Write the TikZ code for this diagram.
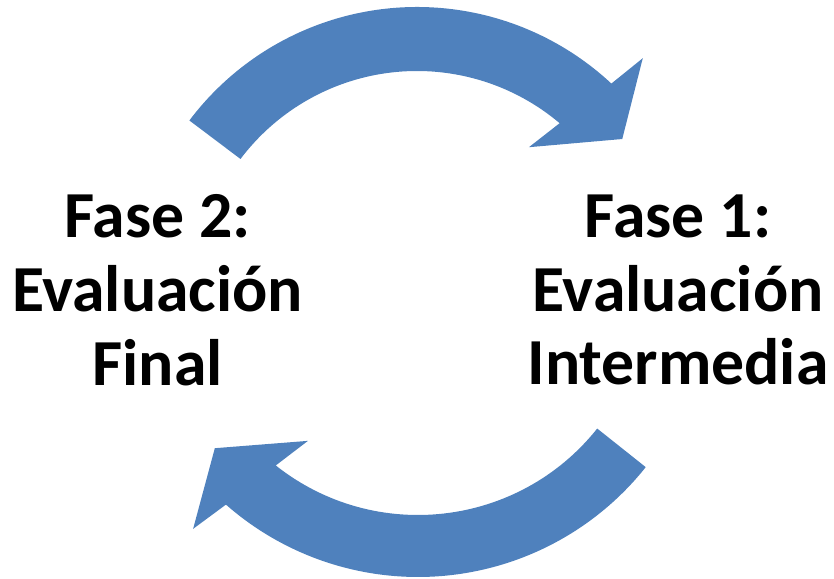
\documentclass[tikz,border=0pt]{standalone}
\usepackage{fontspec}
\setmainfont{Carlito}
\definecolor{cycleblue}{RGB}{79, 129, 189}
\usepackage{tikz}
\usetikzlibrary{positioning, calc}

\begin{document}
\begin{tikzpicture}[
  x=0.02cm, y=0.02cm,
  phase/.style={align=center, inner sep=0pt, font=\bfseries\fontsize{37.4}{42}\selectfont},
  bigarrow/.style={fill=cycleblue, draw=none}
]
  \useasboundingbox (0, 0) rectangle (834, 578);

  \coordinate (topc) at (417, 286);
  \coordinate (botc) at (418, 292);

  \node[phase] (fase2) at (157.5, 288) {Fase 2:\\Evaluación\\Final};
  \node[phase] (fase1) at (678, 288) {Fase 1:\\Evaluación\\Intermedia};

  % upper arrow, left to right
  \fill[bigarrow] ([shift={(topc)}]143:285) arc[start angle=143, end angle=47, radius=285]
    -- ([shift={(topc)}]46:325) -- ([shift={(topc)}]36.7:256)
    -- ([shift={(topc)}]52.3:183) -- ([shift={(topc)}]49.8:221)
    arc[start angle=49.8, end angle=143, radius=221] -- cycle;

  % lower arrow, right to left
  \fill[bigarrow] ([shift={(botc)}]-38.5:291) arc[start angle=-38.5, end angle=-131.3, radius=291]
    -- ([shift={(botc)}]-132.8:331) -- ([shift={(botc)}]-141.4:260)
    -- ([shift={(botc)}]-125.4:190) -- ([shift={(botc)}]-128.4:229)
    arc[start angle=-128.4, end angle=-38.5, radius=229] -- cycle;
\end{tikzpicture}
\end{document}
